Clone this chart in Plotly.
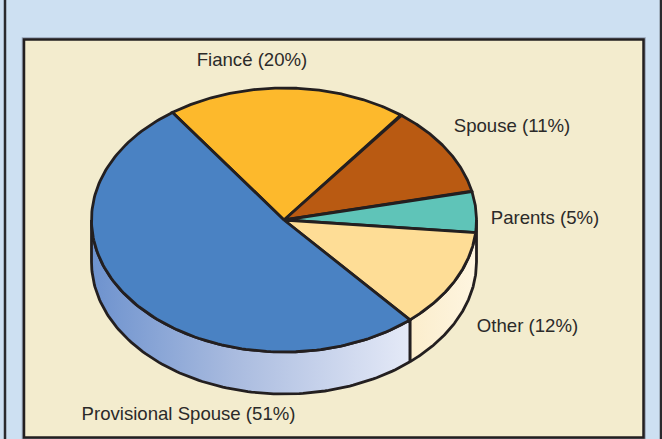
import numpy as np
import plotly.graph_objects as go

labels = ["Fiancé", "Spouse", "Parents", "Other", "Provisional Spouse"]
values = [20, 11, 5, 12, 51]
colors = ["#FDB92C", "#B95A12", "#5FC4B8", "#FEDD96", "#4A82C3"]
label_x = [252, 512, 545, 527.5, 188.5]
label_y = [61, 127, 219, 327, 415]

W, H = 662, 439
CX, CY, RX, RY, DEPTH = 284, 220, 192.5, 132, 42
START = -35.4
INK = "#231F20"


def px(deg):
    return CX + RX * np.sin(np.radians(deg))


def py(deg):
    return CY - RY * np.cos(np.radians(deg))


fig = go.Figure()

shares = np.array(values, dtype=float) / sum(values) * 360
edges = START + np.concatenate([[0], np.cumsum(shares)])

# side walls (visible lower half of the cylinder)
wall_sets = [
    (90, edges[4], [[0, "#FBEDCC"], [1, "#FEF5E0"]], 408, 476),
    (edges[4], 270, [[0, "#6D92CE"], [0.45, "#A9BBDF"], [1, "#E4E9F7"]], 91, 408),
]
for a0, a1, scale, gs, ge in wall_sets:
    t = np.linspace(a0, a1, 120)
    xs = np.concatenate([px(t), px(t[::-1])])
    ys = np.concatenate([py(t) + DEPTH, py(t[::-1])])
    fig.add_trace(go.Scatter(
        x=np.append(xs, xs[0]), y=np.append(ys, ys[0]), mode="lines",
        line=dict(color=INK, width=2.8), fill="toself", hoverinfo="skip",
        fillgradient=dict(type="horizontal", colorscale=scale, start=gs, stop=ge),
    ))

# top face
for i, name in enumerate(labels):
    t = np.linspace(edges[i], edges[i + 1], 150)
    xs = np.concatenate([[CX], px(t), [CX]])
    ys = np.concatenate([[CY], py(t), [CY]])
    fig.add_trace(go.Scatter(
        x=xs, y=ys, mode="lines", fill="toself", fillcolor=colors[i], name=name,
        line=dict(color=INK, width=2.8),
    ))

# slice labels
fig.add_trace(go.Scatter(
    x=label_x, y=label_y, mode="text",
    text=[f"{n} ({v}%)" for n, v in zip(labels, values)],
    textposition="middle center",
    textfont=dict(family="Liberation Sans, Arial, sans-serif", size=18.6, color="#2B2A29"),
    hoverinfo="skip",
))

# panels
shapes = [
    dict(type="rect", x0=5, x1=661, y0=-10, y1=450, layer="below",
         fillcolor="#CDE0F2", line=dict(color="#2A2A2E", width=2.5)),
    dict(type="rect", x0=24, x1=643.5, y0=39.5, y1=437.5, layer="below",
         fillcolor="#F3ECCE", line=dict(color="#94A0B4", width=4.5)),
    dict(type="rect", x0=24, x1=643.5, y0=39.5, y1=437.5, layer="below",
         fillcolor="#F3ECCE", line=dict(color=INK, width=2.5)),
]

fig.update_layout(
    width=W, height=H, margin=dict(l=0, r=0, t=0, b=0),
    paper_bgcolor="#CDE0F2", plot_bgcolor="rgba(0,0,0,0)",
    showlegend=False, shapes=shapes,
    xaxis=dict(range=[0, W], visible=False, fixedrange=True),
    yaxis=dict(range=[H, 0], visible=False, fixedrange=True),
)
fig.write_html(
    "out.html",
    config={"displayModeBar": False},
    post_script="document.body.style.margin='0';document.body.style.overflow='hidden';",
)
